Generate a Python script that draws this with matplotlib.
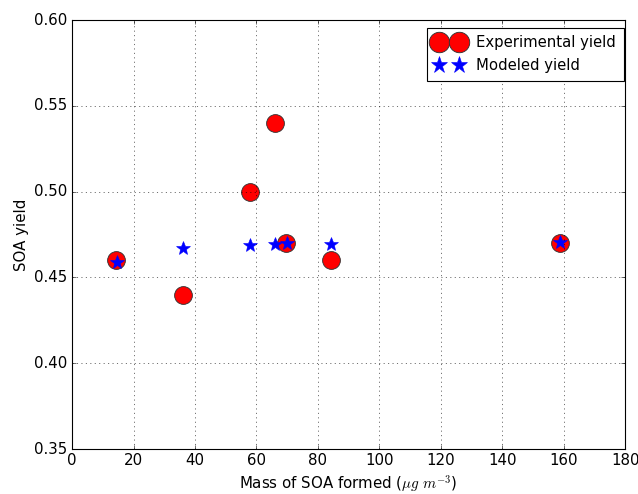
import matplotlib
matplotlib.use("Agg")
import matplotlib.pyplot as plt

plt.style.use('classic')

mass_exp = [14.3, 36.1, 57.9, 66.1, 69.7, 84.3, 158.9]
yield_exp = [0.46, 0.44, 0.50, 0.54, 0.47, 0.46, 0.47]
mass_mod = [14.6, 36.1, 57.9, 66.1, 70.0, 84.3, 158.9]
yield_mod = [0.459, 0.467, 0.469, 0.4695, 0.47, 0.4695, 0.4706]

plt.rcParams['font.size'] = 13.5

fig = plt.figure(figsize=(638/80, 494/80), dpi=80)
ax = fig.add_axes([0.113, 0.091, 0.867, 0.8685])
ax.plot(mass_exp, yield_exp, 'o', color='red', markersize=16,
        markeredgecolor='#333333', markeredgewidth=0.8, label='Experimental yield')
ax.plot(mass_mod, yield_mod, '*', color='blue', markersize=13.5,
        markeredgecolor='blue', label='Modeled yield')
ax.set_xlim(0, 180)
ax.set_ylim(0.35, 0.60)
ax.set_xticks(range(0, 181, 20))
ax.set_yticks([0.35, 0.40, 0.45, 0.50, 0.55, 0.60])
ax.set_yticklabels(['0.35', '0.40', '0.45', '0.50', '0.55', '0.60'])
ax.tick_params(labelsize=13.5)
ax.grid(True)
ax.set_xlabel(r'Mass of SOA formed ($\mu g\ m^{-3}$)', fontsize=13.5)
ax.set_ylabel('SOA yield', fontsize=13.5)
ax.legend(loc='upper right', numpoints=2, fontsize=13.4, markerscale=1.15,
          bbox_to_anchor=(0.997, 0.982), borderaxespad=0,
          handletextpad=0.85, borderpad=0.5, labelspacing=0.55, handlelength=1.95)
fig.savefig('out.png', dpi=80)
